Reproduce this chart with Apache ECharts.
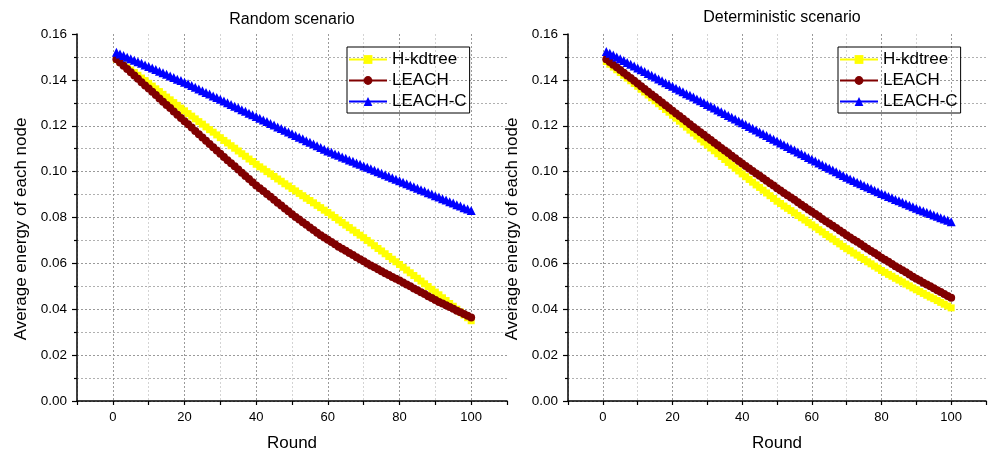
<!DOCTYPE html>
<html><head><meta charset="utf-8">
<script src="https://cdn.jsdelivr.net/npm/echarts@6/dist/echarts.min.js"></script>
<style>html,body{margin:0;padding:0;background:#fff}#c{width:989px;height:457px}</style>
</head><body><div id="c"></div>
<script>
const rounds = [1,2,3,4,5,6,7,8,9,10,11,12,13,14,15,16,17,18,19,20,21,22,23,24,25,26,27,28,29,30,31,32,33,34,35,36,37,38,39,40,41,42,43,44,45,46,47,48,49,50,51,52,53,54,55,56,57,58,59,60,61,62,63,64,65,66,67,68,69,70,71,72,73,74,75,76,77,78,79,80,81,82,83,84,85,86,87,88,89,90,91,92,93,94,95,96,97,98,99,100];

const seriesNames = ['H-kdtree', 'LEACH', 'LEACH-C'];
const panelTitles = ['Random scenario', 'Deterministic scenario'];
const xTickLabels = [0, 20, 40, 60, 80, 100];

// Random scenario
const randomHkdtree = [0.1490,0.1478,0.1467,0.1455,0.1443,0.1432,0.1420,0.1408,0.1397,0.1385,
0.1373,0.1361,0.1349,0.1337,0.1325,0.1313,0.1301,0.1289,0.1277,0.1265,
0.1253,0.1242,0.1230,0.1218,0.1207,0.1195,0.1183,0.1172,0.1160,0.1148,
0.1136,0.1125,0.1113,0.1102,0.1090,0.1078,0.1067,0.1055,0.1044,0.1032,
0.1021,0.1011,0.1000,0.0990,0.0979,0.0968,0.0958,0.0947,0.0937,0.0926,
0.0916,0.0905,0.0895,0.0884,0.0874,0.0864,0.0853,0.0843,0.0832,0.0822,
0.0811,0.0800,0.0789,0.0778,0.0767,0.0756,0.0745,0.0734,0.0723,0.0712,
0.0700,0.0689,0.0677,0.0665,0.0654,0.0642,0.0630,0.0618,0.0607,0.0595,
0.0583,0.0571,0.0559,0.0547,0.0535,0.0523,0.0511,0.0499,0.0487,0.0475,
0.0463,0.0450,0.0438,0.0425,0.0413,0.0400,0.0388,0.0375,0.0363,0.0350];

const randomLeach = [0.1490,0.1476,0.1462,0.1447,0.1433,0.1419,0.1405,0.1390,0.1376,0.1362,
0.1348,0.1334,0.1319,0.1305,0.1291,0.1277,0.1262,0.1248,0.1234,0.1220,
0.1206,0.1192,0.1177,0.1163,0.1149,0.1135,0.1120,0.1106,0.1092,0.1078,
0.1064,0.1050,0.1037,0.1023,0.1009,0.0995,0.0981,0.0968,0.0954,0.0940,
0.0927,0.0915,0.0902,0.0890,0.0877,0.0864,0.0852,0.0839,0.0827,0.0814,
0.0802,0.0791,0.0779,0.0768,0.0756,0.0745,0.0734,0.0723,0.0713,0.0703,
0.0693,0.0683,0.0673,0.0664,0.0655,0.0645,0.0636,0.0627,0.0618,0.0609,
0.0600,0.0591,0.0583,0.0574,0.0566,0.0557,0.0549,0.0541,0.0533,0.0525,
0.0517,0.0508,0.0500,0.0491,0.0483,0.0474,0.0466,0.0457,0.0449,0.0440,
0.0432,0.0425,0.0417,0.0410,0.0402,0.0394,0.0387,0.0379,0.0372,0.0364];

const randomLeachC = [0.1520,0.1513,0.1506,0.1499,0.1492,0.1486,0.1479,0.1472,0.1465,0.1458,
0.1452,0.1445,0.1438,0.1431,0.1424,0.1417,0.1410,0.1403,0.1397,0.1390,
0.1383,0.1375,0.1368,0.1360,0.1353,0.1345,0.1338,0.1330,0.1323,0.1315,
0.1308,0.1300,0.1293,0.1285,0.1278,0.1270,0.1263,0.1255,0.1248,0.1240,
0.1233,0.1225,0.1218,0.1210,0.1203,0.1195,0.1188,0.1180,0.1173,0.1165,
0.1158,0.1150,0.1143,0.1135,0.1128,0.1120,0.1113,0.1105,0.1098,0.1090,
0.1084,0.1077,0.1071,0.1064,0.1058,0.1051,0.1045,0.1038,0.1032,0.1025,
0.1019,0.1012,0.1006,0.0999,0.0993,0.0986,0.0980,0.0973,0.0967,0.0960,
0.0954,0.0947,0.0941,0.0934,0.0928,0.0921,0.0915,0.0908,0.0902,0.0895,
0.0889,0.0882,0.0876,0.0869,0.0863,0.0856,0.0850,0.0843,0.0837,0.0830];

// Deterministic scenario
const detHkdtree = [0.1480,0.1468,0.1456,0.1444,0.1432,0.1420,0.1408,0.1396,0.1384,0.1372,
0.1359,0.1347,0.1334,0.1322,0.1309,0.1296,0.1284,0.1271,0.1259,0.1246,
0.1233,0.1220,0.1207,0.1194,0.1181,0.1168,0.1155,0.1142,0.1129,0.1116,
0.1103,0.1091,0.1078,0.1066,0.1053,0.1040,0.1028,0.1015,0.1003,0.0990,
0.0978,0.0966,0.0954,0.0942,0.0931,0.0919,0.0907,0.0895,0.0883,0.0871,
0.0861,0.0850,0.0840,0.0830,0.0820,0.0809,0.0799,0.0789,0.0778,0.0768,
0.0758,0.0747,0.0737,0.0726,0.0716,0.0706,0.0695,0.0685,0.0674,0.0664,
0.0655,0.0645,0.0636,0.0626,0.0617,0.0607,0.0598,0.0588,0.0579,0.0569,
0.0561,0.0552,0.0544,0.0535,0.0527,0.0519,0.0510,0.0502,0.0493,0.0485,
0.0477,0.0469,0.0461,0.0453,0.0446,0.0438,0.0430,0.0422,0.0414,0.0406];

const detLeach = [0.1490,0.1478,0.1466,0.1455,0.1443,0.1431,0.1419,0.1408,0.1396,0.1384,
0.1372,0.1360,0.1348,0.1336,0.1325,0.1313,0.1301,0.1289,0.1277,0.1265,
0.1253,0.1242,0.1230,0.1219,0.1207,0.1195,0.1184,0.1172,0.1161,0.1149,
0.1138,0.1126,0.1115,0.1103,0.1092,0.1081,0.1069,0.1058,0.1046,0.1035,
0.1024,0.1014,0.1003,0.0992,0.0982,0.0971,0.0960,0.0949,0.0939,0.0928,
0.0918,0.0907,0.0897,0.0887,0.0877,0.0866,0.0856,0.0846,0.0835,0.0825,
0.0815,0.0805,0.0794,0.0784,0.0774,0.0764,0.0754,0.0743,0.0733,0.0723,
0.0713,0.0703,0.0694,0.0684,0.0674,0.0664,0.0654,0.0645,0.0635,0.0625,
0.0616,0.0607,0.0597,0.0588,0.0579,0.0570,0.0561,0.0551,0.0542,0.0533,
0.0525,0.0516,0.0508,0.0500,0.0492,0.0483,0.0475,0.0467,0.0458,0.0450];

const detLeachC = [0.1524,0.1516,0.1508,0.1500,0.1492,0.1484,0.1476,0.1468,0.1460,0.1452,
0.1444,0.1436,0.1428,0.1420,0.1412,0.1404,0.1396,0.1388,0.1380,0.1372,
0.1364,0.1356,0.1348,0.1340,0.1333,0.1325,0.1317,0.1309,0.1301,0.1293,
0.1285,0.1277,0.1269,0.1261,0.1253,0.1245,0.1237,0.1229,0.1221,0.1213,
0.1205,0.1197,0.1189,0.1181,0.1173,0.1165,0.1157,0.1149,0.1141,0.1133,
0.1125,0.1117,0.1109,0.1101,0.1094,0.1086,0.1078,0.1070,0.1062,0.1054,
0.1046,0.1038,0.1030,0.1022,0.1015,0.1007,0.0999,0.0991,0.0983,0.0975,
0.0968,0.0961,0.0954,0.0947,0.0940,0.0933,0.0926,0.0919,0.0912,0.0905,
0.0899,0.0892,0.0886,0.0879,0.0873,0.0866,0.0860,0.0853,0.0847,0.0840,
0.0834,0.0828,0.0823,0.0817,0.0811,0.0805,0.0799,0.0794,0.0788,0.0782];

const FONT = 'Arial, "Liberation Sans", sans-serif';
const colors = ['#ffff00', '#800000', '#0000ff'];
const symbols = ['rect', 'circle', 'triangle'];
const symbolSizes = [7, 8, 9];
const panels = [
  [randomHkdtree, randomLeach, randomLeachC],
  [detHkdtree, detLeach, detLeachC]
];

function makeX(gi) {
  return {
    type: 'value', gridIndex: gi, min: -10, max: 110, interval: 10,
    name: 'Round', nameLocation: 'middle', nameGap: 34,
    nameTextStyle: { fontSize: 17, color: '#000', fontFamily: FONT },
    axisLine: { onZero: false, lineStyle: { color: '#000', width: 1.5 } },
    axisTick: { length: 4, lineStyle: { color: '#000', width: 1.2 } },
    axisLabel: {
      color: '#000', fontSize: 13, fontFamily: FONT, margin: 10,
      formatter: v => xTickLabels.indexOf(v) >= 0 ? String(v) : ''
    },
    splitLine: { show: true, showMaxLine: false, lineStyle: { color: ['#d4d4d4', '#9a9a9a'], type: [2, 2], width: 1 } }
  };
}
function makeY(gi) {
  return {
    type: 'value', gridIndex: gi, min: 0, max: 0.16, interval: 0.02,
    name: 'Average energy of each node', nameLocation: 'middle', nameGap: 47, nameRotate: 90,
    nameTextStyle: { fontSize: 17, color: '#000', fontFamily: FONT, padding: [0, 23, 0, 0] },
    axisLine: { onZero: false, lineStyle: { color: '#000', width: 1.5 } },
    axisTick: { length: 5, lineStyle: { color: '#000', width: 1.2 } },
    minorTick: { show: true, splitNumber: 2, length: 3, lineStyle: { color: '#000', width: 1.2 } },
    axisLabel: { color: '#000', fontSize: 13.5, fontFamily: FONT, margin: 10, formatter: v => v.toFixed(2) },
    splitLine: { show: true, showMaxLine: false, lineStyle: { color: '#9a9a9a', type: [2, 2], width: 1 } },
    minorSplitLine: { show: true, lineStyle: { color: '#b0b0b0', type: [2, 2], width: 1 } }
  };
}

const series = [];
panels.forEach((vals, gi) => {
  vals.forEach((arr, si) => {
    series.push({
      type: 'line', name: seriesNames[si], xAxisIndex: gi, yAxisIndex: gi,
      data: rounds.map((r, i) => [r, arr[i]]),
      symbol: symbols[si], symbolSize: symbolSizes[si], showAllSymbol: true,
      itemStyle: { color: colors[si] },
      lineStyle: { color: colors[si], width: 1.2 },
      emphasis: { disabled: true }
    });
  });
});

function makeLegend(left) {
  return {
    orient: 'vertical', left: left, top: 47, data: seriesNames,
    itemWidth: 38, itemHeight: 11, itemGap: 4, padding: [4, 3, 3, 1],
    borderColor: '#000', borderWidth: 1,
    textStyle: { fontSize: 17, color: '#000', fontFamily: FONT }
  };
}

const chart = echarts.init(document.getElementById('c'), null, { renderer: 'canvas' });
chart.setOption({
  animation: false,
  backgroundColor: '#fff',
  title: [
    { text: panelTitles[0], left: 287, top: 7, textAlign: 'center', textStyle: { fontSize: 16, fontWeight: 'normal', color: '#000', fontFamily: FONT } },
    { text: panelTitles[1], left: 777, top: 5, textAlign: 'center', textStyle: { fontSize: 16, fontWeight: 'normal', color: '#000', fontFamily: FONT } }
  ],
  grid: [
    { left: 77, top: 34, width: 430, height: 369 },
    { left: 568, top: 34, width: 430, height: 369 }
  ],
  legend: [makeLegend(347), makeLegend(838)],
  xAxis: [makeX(0), makeX(1)],
  yAxis: [makeY(0), makeY(1)],
  series: series
});
</script>
</body></html>
